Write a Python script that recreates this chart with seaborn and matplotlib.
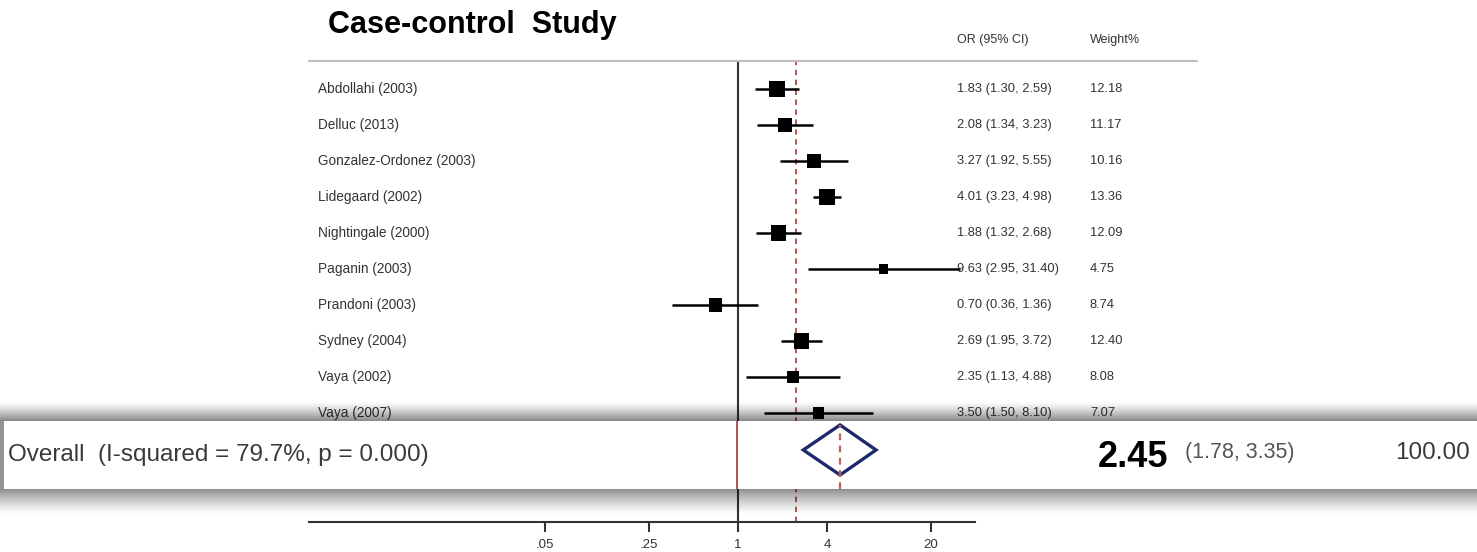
import numpy as np
import pandas as pd
import seaborn as sns
import matplotlib.pyplot as plt
from matplotlib import font_manager
from matplotlib.lines import Line2D
from matplotlib.patches import Polygon, Rectangle
from matplotlib.ticker import NullLocator

# study rows
studies = ["Abdollahi (2003)", "Delluc (2013)", "Gonzalez-Ordonez (2003)", "Lidegaard (2002)",
           "Nightingale (2000)", "Paganin (2003)", "Prandoni (2003)", "Sydney (2004)",
           "Vaya (2002)", "Vaya (2007)"]
or_vals = [1.83, 2.08, 3.27, 4.01, 1.88, 9.63, 0.70, 2.69, 2.35, 3.50]
ci_lo = [1.30, 1.34, 1.92, 3.23, 1.32, 2.95, 0.36, 1.95, 1.13, 1.50]
ci_hi = [2.59, 3.23, 5.55, 4.98, 2.68, 31.40, 1.36, 3.72, 4.88, 8.10]
weights = [12.18, 11.17, 10.16, 13.36, 12.09, 4.75, 8.74, 12.40, 8.08, 7.07]

# pooled estimate
overall_label = "Overall  (I-squared = 79.7%, p = 0.000)"
overall_or = 2.45
overall_lo = 1.78
overall_hi = 3.35
overall_w = 100.00

tick_vals = [0.05, 0.25, 1, 4, 20]
tick_labels = [".05", ".25", "1", "4", "20"]

sns.set_theme(style="white")
plt.rcParams['font.family'] = ['Liberation Sans', 'DejaVu Sans']

installed = {f.name for f in font_manager.fontManager.ttflist}
narrow = 'Liberation Sans Narrow' in installed

W, H = 1477, 552
TXT = '#333333'


def px_rect(x0, y0, x1, y1):
    return [x0 / W, 1 - y1 / H, (x1 - x0) / W, (y1 - y0) / H]


fig = plt.figure(figsize=(W / 100, H / 100), dpi=100)

# main forest plot
ax = fig.add_axes(px_rect(309, 62, 975, 522))
ax.set_xscale('log')
ax.set_xlim(np.exp(-6.672), np.exp(3.686))
ax.set_ylim(12.03, -0.75)

df = pd.DataFrame({"study": studies, "or": or_vals, "lo": ci_lo, "hi": ci_hi,
                   "w": weights, "row": np.arange(len(studies))})

ax.axvline(1, color=TXT, lw=1.5, zorder=1)
ax.axvline(overall_or, color='#b04a48', lw=1.3, ls=(0, (3, 2.5)), zorder=1)
ax.hlines(df["row"], df["lo"], df["hi"], color='black', lw=1.8, zorder=2)
k = 10.2  # area (pt^2) per weight unit
sns.scatterplot(data=df, x="or", y="row", size="w", sizes=(k * df["w"].min(), k * df["w"].max()),
                marker='s', color='black', linewidth=0, legend=False, ax=ax, zorder=3)

ytr = ax.get_yaxis_transform()
for _, r in df.iterrows():
    ax.text((318 - 309) / 666, r["row"], r["study"], transform=ytr, fontsize=9.8,
            color=TXT, va='center', ha='left', clip_on=False)
    ax.text((957 - 309) / 666, r["row"], f"{r['or']:.2f} ({r['lo']:.2f}, {r['hi']:.2f})",
            transform=ytr, fontsize=9.3, color=TXT, va='center', ha='left', clip_on=False,
            zorder=5)
    ax.text((1090 - 309) / 666, r["row"], f"{r['w']:.2f}", transform=ytr, fontsize=9.3,
            color=TXT, va='center', ha='left', clip_on=False)

ax.set_xticks(tick_vals)
ax.set_xticklabels(tick_labels)
ax.xaxis.set_minor_locator(NullLocator())
ax.set_yticks([])
ax.set_xlabel("")
ax.set_ylabel("")
for s in ['left', 'right', 'top']:
    ax.spines[s].set_visible(False)
ax.spines['bottom'].set_color(TXT)
ax.spines['bottom'].set_linewidth(1.5)
ax.tick_params(axis='x', length=7, width=1.5, colors=TXT, labelsize=9.5, pad=5, direction='out',
               bottom=True)

# header and title
fig.text(328 / W, 1 - 25 / H, "Case-control  Study", fontsize=22, fontweight='bold',
         color='black', va='center', ha='left')
fig.text(957 / W, 1 - 40 / H, "OR (95% CI)", fontsize=9, color=TXT, va='center', ha='left')
fig.text(1090 / W, 1 - 40 / H, "Weight%", fontsize=9, color=TXT, va='center', ha='left')
fig.add_artist(Line2D([309 / W, 1197 / W], [1 - 61 / H, 1 - 61 / H], color='#bdbdbd', lw=1.5))

# shadow around the highlighted band
sh = fig.add_axes([0, 0, 1, 1], zorder=4)
sh.axis('off')
top = np.zeros((60, 1, 4))
top[..., 3] = (np.linspace(0, 1, 60) ** 1.3 * 0.47)[:, None]
sh.imshow(top, extent=(0, W, 421, 401), aspect='auto', interpolation='bilinear')
bot = np.zeros((60, 1, 4))
bot[..., 3] = (np.linspace(1, 0, 60) ** 1.3 * 0.44)[:, None]
sh.imshow(bot, extent=(0, W, 515, 489), aspect='auto', interpolation='bilinear')
sh.add_patch(Rectangle((0, 421), 4, 68, color='black', alpha=0.42, lw=0))
sh.set_xlim(0, W)
sh.set_ylim(H, 0)

# highlighted overall row
bx = fig.add_axes(px_rect(4, 421, 1477, 489), zorder=5)
bx.set_facecolor('white')
bx.set_xscale('log')
bx.set_xlim(np.exp((4 - 737) / 115), np.exp((1477 - 737) / 115))
bx.set_ylim(0, 1)
bx.set_xticks([])
bx.xaxis.set_minor_locator(NullLocator())
bx.set_yticks([])
for s in bx.spines.values():
    s.set_visible(False)

yc, hh = 0.574, 0.368
bx.axvline(1, color='#9a3c3c', lw=1.2)
bx.vlines(overall_or, 0, yc + hh, color='#c0605a', lw=1.6, ls=(0, (3, 2.5)))
bx.add_patch(Polygon([(overall_lo, yc), (overall_or, yc + hh), (overall_hi, yc), (overall_or, yc - hh)],
                     closed=True, fill=False, edgecolor='#1f2a6e', lw=2.4, joinstyle='miter'))

bx.text(4 / 1473, 0.5, overall_label, transform=bx.transAxes, fontsize=17.5, color='#3a3a3a',
        va='center', ha='left')
if narrow:
    bx.text((1098 - 4) / 1473, 0.47, f"{overall_or:.2f}", transform=bx.transAxes, fontsize=31,
            fontweight='bold', family=['Liberation Sans Narrow', 'DejaVu Sans'],
            color='black', va='center', ha='left')
else:
    bx.text((1098 - 4) / 1473, 0.47, f"{overall_or:.2f}", transform=bx.transAxes, fontsize=26,
            fontweight='bold', color='black', va='center', ha='left')
bx.text((1185 - 4) / 1473, 0.53, f"({overall_lo:.2f}, {overall_hi:.2f})", transform=bx.transAxes,
        fontsize=15.5, color='#555555', va='center', ha='left')
bx.text((1395 - 4) / 1473, 0.53, f"{overall_w:.2f}", transform=bx.transAxes, fontsize=17.5,
        color='#3a3a3a', va='center', ha='left')

fig.savefig("out.png", dpi=100)
